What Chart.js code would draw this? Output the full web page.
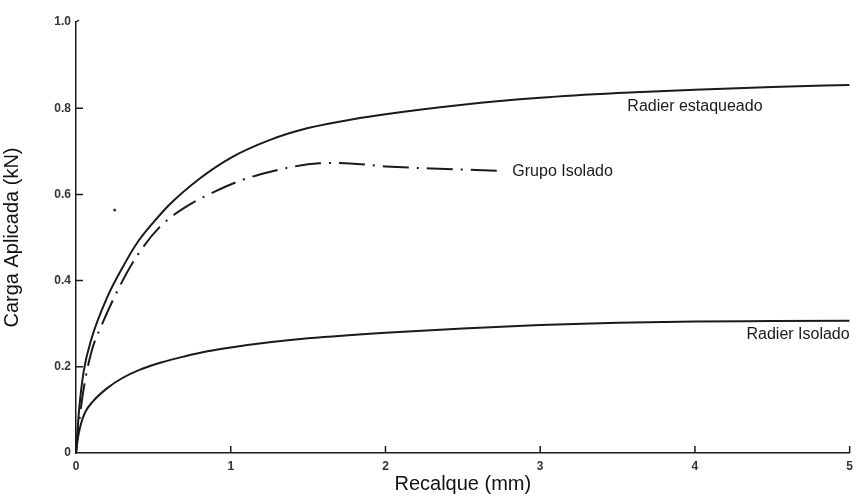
<!DOCTYPE html>
<html lang="pt">
<head>
  <meta charset="UTF-8">
  <title>Carga x Recalque</title>
  <script src="https://cdn.jsdelivr.net/npm/chart.js"></script>
  <style>
    html, body { margin: 0; padding: 0; background: #ffffff; }
    #wrap { width: 859px; height: 496px; }
  </style>
</head>
<body>
  <div id="wrap"><canvas id="grafico" width="859" height="496"></canvas></div>

<script>
  // curvas (recalque em mm, carga em kN)
  var xEstaqueado = [0, 0.02, 0.05, 0.1, 0.2, 0.3, 0.4, 0.5, 0.6, 0.8, 1.0, 1.25, 1.5, 1.8, 2.0, 2.5, 3.0, 3.5, 4.0, 4.5, 5.0];
  var yEstaqueado = [0, 0.1, 0.19, 0.265, 0.36, 0.43, 0.49, 0.535, 0.575, 0.637, 0.685, 0.726, 0.754, 0.775, 0.786, 0.808, 0.824, 0.835, 0.843, 0.849, 0.854];

  var xGrupo = [0, 0.02, 0.05, 0.1, 0.17, 0.28, 0.39, 0.54, 0.71, 0.9, 1.07, 1.25, 1.4, 1.57, 1.7, 2.0, 2.3, 2.73];
  var yGrupo = [0, 0.07, 0.15, 0.235, 0.30, 0.385, 0.455, 0.524, 0.571, 0.607, 0.633, 0.652, 0.664, 0.672, 0.673, 0.665, 0.66, 0.655];

  var xRadier = [0, 0.01, 0.03, 0.06, 0.11, 0.2, 0.3, 0.41, 0.55, 0.7, 0.85, 1.0, 1.25, 1.5, 2.0, 2.5, 3.0, 3.5, 4.0, 4.5, 5.0];
  var yRadier = [0, 0.03, 0.065, 0.095, 0.12, 0.15, 0.174, 0.193, 0.21, 0.224, 0.236, 0.245, 0.257, 0.266, 0.279, 0.289, 0.297, 0.302, 0.305, 0.306, 0.307];

  // ponto solto que aparece na figura original
  var xPonto = [0.25];
  var yPonto = [0.564];

  var xTicks = [0, 1, 2, 3, 4, 5];
  var yTicks = [0, 0.2, 0.4, 0.6, 0.8, 1.0];
  var yTickLabels = ['0', '0.2', '0.4', '0.6', '0.8', '1.0'];

  // rótulos das curvas (posição em coordenadas do gráfico)
  var rotulos = [
    { texto: 'Radier estaqueado', x: 4.0, y: 0.803, align: 'center' },
    { texto: 'Grupo Isolado', x: 2.82, y: 0.652, align: 'left' },
    { texto: 'Radier Isolado', x: 5.0, y: 0.274, align: 'right' }
  ];

  function pares(xs, ys) {
    var out = [];
    for (let i = 0; i < xs.length; i++) {
      out.push({ x: xs[i], y: ys[i] });
    }
    return out;
  }

  var corLinha = '#1a1a1a';

  // desenha os traços de escala para dentro e os rótulos das curvas
  var extras = {
    id: 'extras',
    afterDraw: function (chart) {
      var ctx = chart.ctx;
      var sx = chart.scales.x;
      var sy = chart.scales.y;
      var x0 = sx.getPixelForValue(0);
      var y0 = sy.getPixelForValue(0);
      ctx.save();
      ctx.strokeStyle = corLinha;
      ctx.lineWidth = 1.5;
      ctx.beginPath();
      for (let i = 1; i < xTicks.length; i++) {
        var px = sx.getPixelForValue(xTicks[i]);
        ctx.moveTo(px, y0);
        ctx.lineTo(px, y0 - 7);
      }
      for (let i = 1; i < yTicks.length - 1; i++) {
        var py = sy.getPixelForValue(yTicks[i]);
        ctx.moveTo(x0, py);
        ctx.lineTo(x0 + 7, py);
      }
      // pequeno gancho no topo do eixo
      var yTopo = sy.getPixelForValue(1.0);
      ctx.moveTo(x0, yTopo);
      ctx.lineTo(x0 + 3, yTopo - 2);
      ctx.stroke();

      ctx.fillStyle = '#1a1a1a';
      ctx.font = '16px "Liberation Sans", Arial, sans-serif';
      ctx.textBaseline = 'middle';
      rotulos.forEach(function (r) {
        ctx.textAlign = r.align;
        ctx.fillText(r.texto, sx.getPixelForValue(r.x), sy.getPixelForValue(r.y));
      });
      ctx.restore();
    }
  };

  var config = {
    type: 'scatter',
    data: {
      datasets: [
        {
          label: 'Radier estaqueado',
          data: pares(xEstaqueado, yEstaqueado),
          showLine: true,
          borderColor: corLinha,
          borderWidth: 2,
          pointRadius: 0,
          cubicInterpolationMode: 'monotone'
        },
        {
          label: 'Grupo Isolado',
          data: pares(xGrupo, yGrupo),
          showLine: true,
          borderColor: corLinha,
          borderWidth: 2,
          borderDash: [26, 8, 2, 8],
          pointRadius: 0,
          cubicInterpolationMode: 'monotone'
        },
        {
          label: 'Radier Isolado',
          data: pares(xRadier, yRadier),
          showLine: true,
          borderColor: corLinha,
          borderWidth: 2,
          pointRadius: 0,
          cubicInterpolationMode: 'monotone'
        },
        {
          label: 'ponto',
          data: pares(xPonto, yPonto),
          showLine: false,
          pointRadius: 1.5,
          pointBackgroundColor: '#333333',
          pointBorderWidth: 0
        }
      ]
    },
    options: {
      responsive: false,
      animation: false,
      layout: { padding: { top: 22, right: 4, left: 0, bottom: 0 } },
      plugins: {
        legend: { display: false },
        tooltip: { enabled: false }
      },
      scales: {
        x: {
          type: 'linear',
          min: 0,
          max: 5,
          afterBuildTicks: function (axis) {
            axis.ticks = xTicks.map(v => ({ value: v }));
          },
          afterFit: function (axis) { axis.height = 43; },
          grid: { display: false, drawTicks: false },
          border: { display: true, color: corLinha, width: 1.5 },
          ticks: {
            color: '#333333',
            padding: 6,
            font: { family: '"Liberation Sans", Arial, sans-serif', size: 12, weight: 'bold' },
            maxRotation: 0
          },
          title: {
            display: true,
            text: 'Recalque (mm)',
            color: '#111111',
            padding: { top: -2, bottom: 0 },
            font: { family: '"Liberation Sans", Arial, sans-serif', size: 20 }
          }
        },
        y: {
          type: 'linear',
          min: 0,
          max: 1.0,
          afterBuildTicks: function (axis) {
            axis.ticks = yTicks.map(v => ({ value: v }));
          },
          afterFit: function (axis) { axis.width = 76; },
          grid: { display: false, drawTicks: false },
          border: { display: true, color: corLinha, width: 1.5 },
          ticks: {
            color: '#333333',
            padding: 5,
            font: { family: '"Liberation Sans", Arial, sans-serif', size: 12, weight: 'bold' },
            callback: function (value, index) { return yTickLabels[index]; }
          },
          title: {
            display: true,
            text: 'Carga Aplicada (kN)',
            color: '#111111',
            padding: { top: 0, bottom: 4 },
            font: { family: '"Liberation Sans", Arial, sans-serif', size: 20 }
          }
        }
      }
    },
    plugins: [extras]
  };

  new Chart(document.getElementById('grafico').getContext('2d'), config);
</script>
</body>
</html>
